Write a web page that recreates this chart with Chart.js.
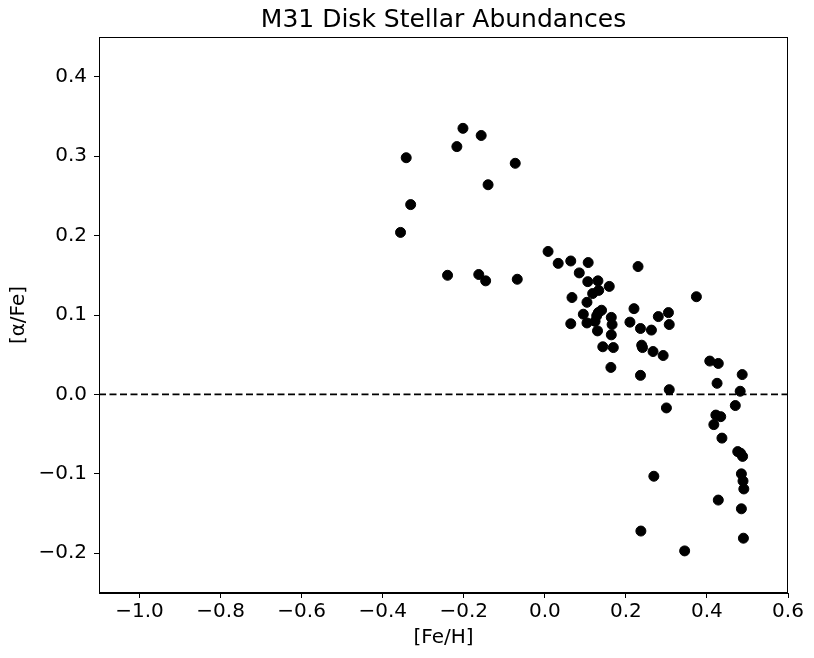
<!DOCTYPE html>
<html>
<head>
<meta charset="utf-8">
<script src="https://cdn.jsdelivr.net/npm/chart.js@4"></script>
<style>
  html, body { margin: 0; padding: 0; background: #fff; }
  #wrap { width: 814px; height: 658px; }
</style>
</head>
<body>
<div id="wrap"><canvas id="myChart"></canvas></div>
<script>
// [Fe/H] and [alpha/Fe]
const feH = [
  -0.342, -0.331, -0.356, -0.202, -0.217, -0.157, -0.140, -0.073,
  -0.240, -0.163, -0.146, -0.068,
  0.008, 0.033, 0.064, 0.107, 0.230, 0.085, 0.106, 0.131, 0.159, 0.133,
  0.118, 0.067, 0.374, 0.104, 0.220, 0.140, 0.095, 0.128, 0.164, 0.280,
  0.305, 0.124, 0.104, 0.064, 0.166, 0.210, 0.307, 0.236, 0.263, 0.130,
  0.164, 0.239, 0.241, 0.143, 0.169, 0.267, 0.292, 0.163, 0.236, 0.132,
  0.407, 0.428, 0.487, 0.425, 0.307, 0.482, 0.300, 0.470, 0.422, 0.434,
  0.417, 0.437, 0.476, 0.483, 0.488, 0.269, 0.485, 0.489, 0.491, 0.428,
  0.485, 0.237, 0.490, 0.345
];
const alphaFe = [
  0.298, 0.239, 0.204, 0.335, 0.312, 0.326, 0.264, 0.291,
  0.150, 0.151, 0.143, 0.145,
  0.180, 0.165, 0.168, 0.166, 0.161, 0.153, 0.142, 0.143, 0.136, 0.131,
  0.127, 0.122, 0.123, 0.116, 0.108, 0.106, 0.101, 0.099, 0.097, 0.098,
  0.103, 0.092, 0.090, 0.089, 0.088, 0.091, 0.088, 0.083, 0.081, 0.080,
  0.075, 0.062, 0.059, 0.060, 0.059, 0.054, 0.049, 0.034, 0.024, 0.103,
  0.042, 0.039, 0.025, 0.014, 0.006, 0.004, -0.017, -0.014, -0.026, -0.028,
  -0.038, -0.055, -0.072, -0.074, -0.078, -0.103, -0.100, -0.109, -0.119, -0.133,
  -0.144, -0.172, -0.181, -0.197
];
const xTicks = [-1.0, -0.8, -0.6, -0.4, -0.2, 0.0, 0.2, 0.4, 0.6];
const yTicks = [-0.2, -0.1, 0.0, 0.1, 0.2, 0.3, 0.4];
const titleText = 'M31 Disk Stellar Abundances';

const points = feH.map((x, i) => ({ x: x, y: alphaFe[i] }));
const fmt = v => (v < 0 ? '\u2212' : '') + Math.abs(v).toFixed(1);

// box round the plot area, and the title centred over it
const frame = {
  id: 'frame',
  afterDraw(chart) {
    const a = chart.chartArea, c = chart.ctx;
    c.save();
    c.strokeStyle = '#000';
    c.lineWidth = 1;
    c.strokeRect(a.left + 0.5, a.top + 0.5, a.right - a.left - 1, a.bottom - a.top - 1);
    c.fillStyle = '#000';
    c.font = "25px 'DejaVu Sans', sans-serif";
    c.textAlign = 'center';
    c.textBaseline = 'middle';
    c.fillText(titleText, (a.left + a.right) / 2, 20);
    c.restore();
  }
};

document.addEventListener("DOMContentLoaded", function () {
  Chart.defaults.font.family = "'DejaVu Sans', sans-serif";
  Chart.defaults.color = '#000';
  const ctx = document.getElementById('myChart');
  new Chart(ctx, {
    type: 'scatter',
    data: {
      datasets: [{
        data: points,
        backgroundColor: '#000',
        borderColor: '#000',
        pointRadius: 5,
        pointHoverRadius: 5
      }, {
        type: 'line',
        data: [{ x: -1.1, y: 0 }, { x: 0.6, y: 0 }],
        borderColor: '#000',
        borderWidth: 1.8,
        borderDash: [7, 3.5],
        pointRadius: 0,
        fill: false
      }]
    },
    options: {
      responsive: true,
      maintainAspectRatio: false,
      animation: false,
      layout: { padding: { top: 37, right: 26, bottom: 0, left: 0 } },
      plugins: {
        legend: { display: false },
        tooltip: { enabled: false },
        title: { display: false }
      },
      scales: {
        x: {
          type: 'linear',
          min: -1.1,
          max: 0.6,
          afterBuildTicks: s => { s.ticks = xTicks.map(v => ({ value: v })); },
          afterFit: s => { s.height = 65; },
          grid: { drawOnChartArea: false, drawTicks: true, tickLength: 5, color: '#000' },
          border: { display: true, color: '#000' },
          ticks: { callback: fmt, font: { size: 20 }, padding: 2, maxRotation: 0 },
          title: { display: true, text: '[Fe/H]', font: { size: 20 }, padding: { top: 0, bottom: 8 } }
        },
        y: {
          type: 'linear',
          min: -0.25,
          max: 0.45,
          afterBuildTicks: s => { s.ticks = yTicks.map(v => ({ value: v })); },
          afterFit: s => { s.width = 99; },
          grid: { drawOnChartArea: false, drawTicks: true, tickLength: 5, color: '#000' },
          border: { display: true, color: '#000' },
          ticks: { callback: fmt, font: { size: 20 }, padding: 7 },
          title: { display: true, text: '[\u03b1/Fe]', font: { size: 20 }, padding: { top: 7, bottom: 0 } }
        }
      }
    },
    plugins: [frame]
  });
});
</script>
</body>
</html>
